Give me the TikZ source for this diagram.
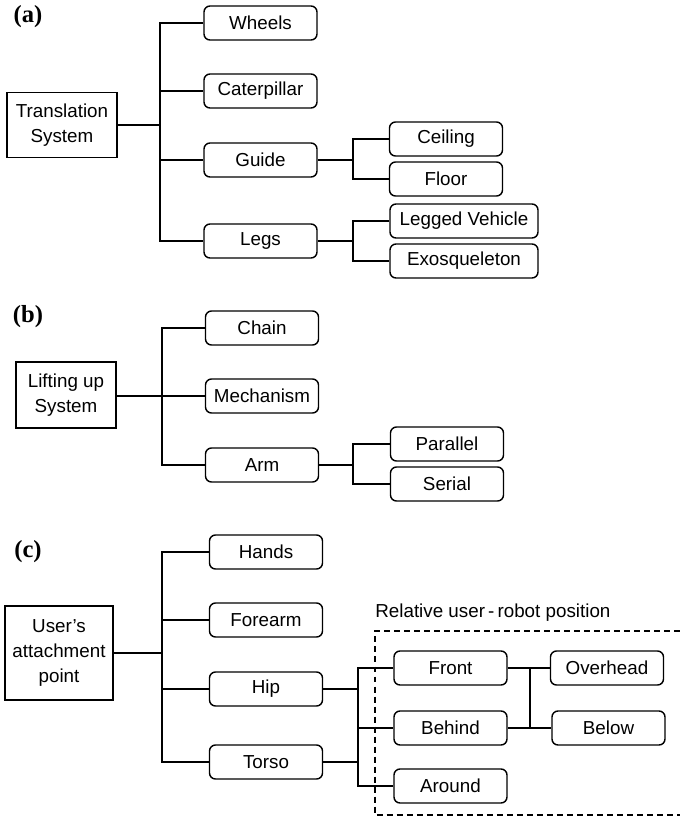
\documentclass[tikz,border=0pt]{standalone}
\usepackage{fontspec}
\setmainfont{Liberation Sans}
\newfontfamily\tagfont{Liberation Serif}
\usepackage{tikz}

\tikzset{
  root/.style={draw,thick,align=center,inner sep=0pt},
  leaf/.style={draw,thick,rounded corners=3.4pt,inner sep=0pt,
    minimum width=2.26cm,minimum height=0.68cm},
  wideleaf/.style={leaf,minimum width=2.96cm},
  tag/.style={font=\tagfont\bfseries\fontsize{14}{16}\selectfont},
  wire/.style={line width=0.85pt},
}

\begin{document}
\begin{tikzpicture}[x=0.02cm,y=-0.02cm,font=\fontsize{10.7}{14.4}\selectfont]
      \useasboundingbox (0,0) rectangle (680,816);

      % (a) translation system
      \node[tag] (taga) at (28,17) {(a)};
      \node[root,minimum width=2.2cm,minimum height=1.3cm] (trans) at (62,125) {Translation\\System};
      \node[leaf] (wheels) at (260.5,23) {Wheels};
      \node[leaf] (caterpillar) at (260.5,91) {Caterpillar};
      \node[leaf] (guide) at (260.5,160) {Guide};
      \node[leaf] (legs) at (260.5,241) {Legs};
      \node[leaf] (ceiling) at (446,139) {Ceiling};
      \node[leaf] (floor) at (446,179) {Floor};
      \node[wideleaf] (legged) at (464,221) {Legged Vehicle};
      \node[wideleaf] (exo) at (464,261) {Exosqueleton};
      \coordinate (ta) at (160,125);
      \coordinate (tg) at (353,160);
      \coordinate (tl) at (353,241);
      \draw[wire] (trans) -- (ta);
      \draw[wire] (wheels.west) -| (ta) |- (legs.west);
      \draw[wire] (ta) |- (caterpillar.west);
      \draw[wire] (ta) |- (guide.west);
      \draw[wire] (guide) -- (tg);
      \draw[wire] (ceiling.west) -| (tg) |- (floor.west);
      \draw[wire] (legs) -- (tl);
      \draw[wire] (legged.west) -| (tl) |- (exo.west);

      % (b) lifting up system
      \node[tag] (tagb) at (28,317) {(b)};
      \node[root,minimum width=2.0cm,minimum height=1.32cm] (lift) at (66,395) {Lifting up\\System};
      \node[leaf] (chain) at (262,328) {Chain};
      \node[leaf] (mechanism) at (262,396) {Mechanism};
      \node[leaf] (arm) at (262,465) {Arm};
      \node[leaf] (parallel) at (447,444) {Parallel};
      \node[leaf] (serial) at (447,484) {Serial};
      \coordinate (lb) at (162,396);
      \coordinate (la) at (353,465);
      \draw[wire] (lift) -- (lift.east |- lb) -- (lb);
      \draw[wire] (chain.west) -| (lb) |- (arm.west);
      \draw[wire] (lb) -- (mechanism.west);
      \draw[wire] (arm) -- (la);
      \draw[wire] (parallel.west) -| (la) |- (serial.west);

      % (c) user's attachment point
      \node[tag] (tagc) at (28,552) {(c)};
      \node[root,minimum width=2.16cm,minimum height=1.88cm] (user) at (59,653) {User's\\attachment\\point};
      \node[leaf] (hands) at (266,552) {Hands};
      \node[leaf] (forearm) at (266,620) {Forearm};
      \node[leaf] (hip) at (266,689) {Hip};
      \node[leaf] (torso) at (266,762) {Torso};
      \node[leaf] (front) at (450.5,668) {Front};
      \node[leaf] (behind) at (450.5,728) {Behind};
      \node[leaf] (around) at (450.5,786) {Around};
      \node[leaf] (overhead) at (607,668) {Overhead};
      \node[leaf] (below) at (608.5,728) {Below};
      \coordinate (ub) at (162,653);
      \coordinate (uh) at (358,689);
      \coordinate (ut) at (358,762);
      \coordinate (ur) at (530,698);
      \draw[wire] (user) -- (ub);
      \draw[wire] (hands.west) -| (ub) |- (torso.west);
      \draw[wire] (ub) |- (forearm.west);
      \draw[wire] (ub) |- (hip.west);
      \draw[wire] (hip) -- (uh);
      \draw[wire] (torso) -- (ut);
      \draw[wire] (front.west) -| (uh) -- (ut) |- (around.west);
      \draw[wire] (uh) |- (behind.west);
      \draw[wire] (front.east) -| (ur) |- (behind.east);
      \draw[wire] (ur) |- (overhead.west);
      \draw[wire] (ur) |- (below.west);

      % dashed frame, open on the right
      \node[anchor=base west,inner sep=0pt] (relpos) at (375,617) {Relative user\,-\,robot position};
      \draw[thick,dash pattern=on 3.4pt off 2.3pt] (680,631) -- (375,631) -- (375,815) -- (680,815);
    \end{tikzpicture}
\end{document}
